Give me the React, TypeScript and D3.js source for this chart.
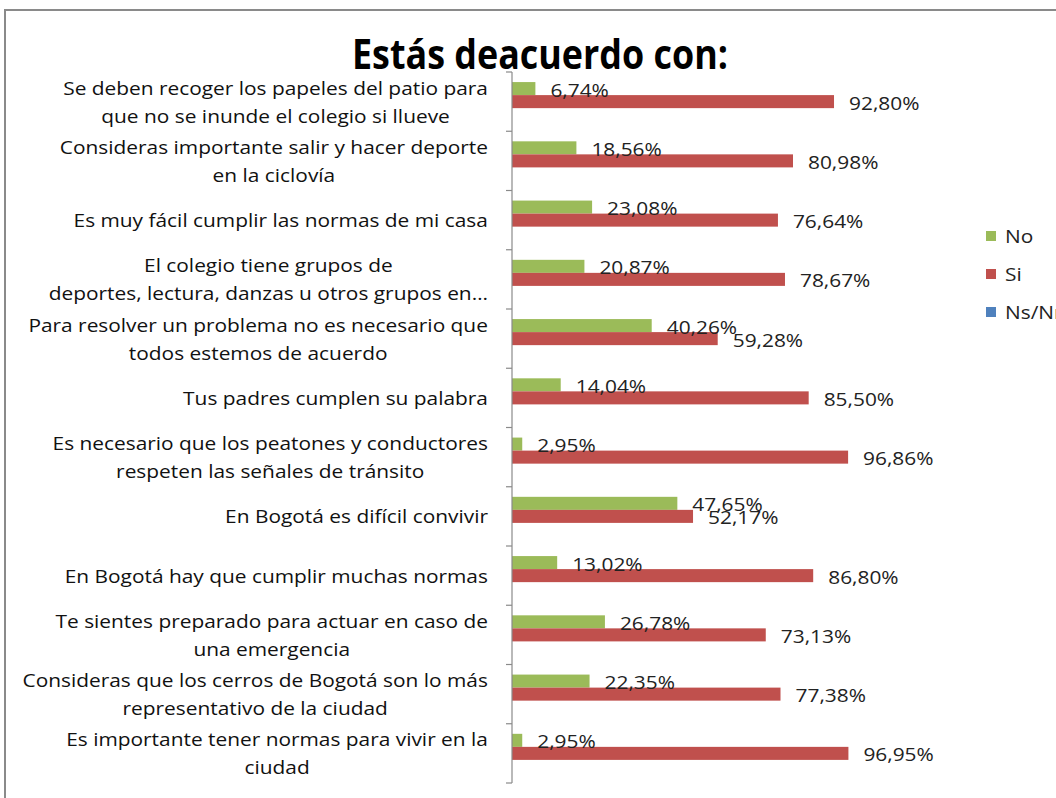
import React, { useEffect, useRef } from "react";
import { select, scaleLinear, scaleBand, max } from "d3";

// categories, top to bottom, already split into the lines shown in the chart
const categories = [
  ["Se deben  recoger los papeles del patio para", "que no se inunde el colegio si llueve"],
  ["Consideras importante salir y hacer deporte", "en la ciclovía"],
  ["Es muy fácil cumplir las normas de mi casa"],
  ["El colegio tiene grupos de", "deportes, lectura, danzas u otros grupos en…"],
  ["Para resolver un problema no es necesario que", "todos estemos de acuerdo"],
  ["Tus padres cumplen su palabra"],
  ["Es necesario que los peatones y conductores", "respeten las señales de tránsito"],
  ["En Bogotá es difícil convivir"],
  ["En Bogotá hay que cumplir muchas normas"],
  ["Te sientes preparado para actuar en caso de", "una emergencia"],
  ["Consideras que los cerros de Bogotá son lo más", "representativo de la ciudad"],
  ["Es importante tener normas para vivir en la", "ciudad"],
];
const seriesNames = ["No", "Si", "Ns/Nr"];
const noValues = [6.74, 18.56, 23.08, 20.87, 40.26, 14.04, 2.95, 47.65, 13.02, 26.78, 22.35, 2.95];
const siValues = [92.8, 80.98, 76.64, 78.67, 59.28, 85.5, 96.86, 52.17, 86.8, 73.13, 77.38, 96.95];
const nsnrValues = [0, 0, 0, 0, 0, 0, 0, 0, 0, 0, 0, 0];

const colors = ["#9BBB59", "#C0504D", "#4F81BD"];
const font = "'Open Sans', sans-serif";
const sx = 1.16; // the original's text is wider than Open Sans

const App = () => {
  const ref = useRef<SVGSVGElement>(null);

  useEffect(() => {
    const svg = select(ref.current);
    svg.selectAll("*").remove();
    const series = [noValues, siValues, nsnrValues];

    svg.append("rect").attr("width", 1056).attr("height", 798).attr("fill", "#fff");
    svg.append("rect")
      .attr("x", 5).attr("y", 10).attr("width", 1200).attr("height", 1000)
      .attr("fill", "none").attr("stroke", "#8a8a8a").attr("stroke-width", 2);

    svg.append("text")
      .attr("x", 540).attr("y", 69)
      .attr("text-anchor", "middle")
      .attr("font-family", font)
      .attr("font-weight", "bold")
      .attr("font-size", 42)
      .attr("textLength", 376)
      .attr("lengthAdjust", "spacingAndGlyphs")
      .text("Estás deacuerdo con:");

    const x = scaleLinear().domain([0, 100]).range([512, 859]);
    const y = scaleBand<number>()
      .domain(categories.map((_, i) => i))
      .range([72, 783])
      .paddingInner(0.34)
      .paddingOuter(0.17);
    const inner = scaleBand<number>().domain([0, 1, 2]).range([0, y.bandwidth()]);
    const step = y.step();

    // bars
    series.forEach((vals, s) => {
      svg.append("g").selectAll("rect")
        .data(vals)
        .join("rect")
        .attr("x", x(0))
        .attr("y", (_, i) => (y(i) as number) + (inner(s) as number))
        .attr("width", d => x(d) - x(0))
        .attr("height", inner.bandwidth())
        .attr("fill", colors[s]);
    });

    // value labels (No and Si only)
    series.slice(0, 2).forEach((vals, s) => {
      svg.append("g").selectAll("g")
        .data(vals)
        .join("g")
        .attr("transform", (d, i) =>
          `translate(${x(d) + 15},${(y(i) as number) + (inner(s) as number) + inner.bandwidth() / 2 + 1}) scale(${sx},1)`)
        .append("text")
        .attr("dominant-baseline", "central")
        .attr("font-family", font)
        .attr("font-size", 18)
        .attr("fill", "#222")
        .text(d => d.toFixed(2).replace(".", ",") + "%");
    });

    // axis line and ticks
    const axis = svg.append("g").attr("stroke", "#8a8a8a").attr("stroke-width", 1.2);
    axis.append("line").attr("x1", 512).attr("x2", 512).attr("y1", 72).attr("y2", 783);
    axis.selectAll("line.tick")
      .data(categories.map((_, i) => i).concat([categories.length]))
      .join("line")
      .attr("class", "tick")
      .attr("x1", 506).attr("x2", 512)
      .attr("y1", d => 72 + d * step)
      .attr("y2", d => 72 + d * step);

    // category labels: block right aligned, lines centered inside it
    const lineH = 28;
    categories.forEach((lines, i) => {
      const cy = (y(i) as number) + y.bandwidth() / 2;
      const groups = svg.append("g").selectAll("g")
        .data(lines)
        .join("g");
      const texts = groups.append("text")
        .attr("dominant-baseline", "central")
        .attr("text-anchor", "middle")
        .attr("font-family", font)
        .attr("font-size", 18)
        .attr("fill", "#111")
        .text(d => d);
      const widths = texts.nodes().map(n => (n as SVGTextElement).getComputedTextLength());
      const w = (max(widths) || 0) * sx;
      groups.attr("transform", (_, j) =>
        `translate(${488 - w / 2},${cy + (j - (lines.length - 1) / 2) * lineH}) scale(${sx},1)`);
    });

    // legend
    const legend = svg.append("g").selectAll("g")
      .data(seriesNames)
      .join("g")
      .attr("transform", (_, i) => `translate(986,${236 + i * 38})`);
    legend.append("rect")
      .attr("x", 0).attr("y", -5).attr("width", 10).attr("height", 10)
      .attr("fill", (_, i) => colors[i]);
    legend.append("text")
      .attr("transform", `translate(19,0) scale(${sx},1)`)
      .attr("dominant-baseline", "central")
      .attr("font-family", font)
      .attr("font-size", 18)
      .attr("fill", "#222")
      .text(d => d);
  }, []);

  return (
    <svg
      ref={ref}
      width={1056}
      height={798}
      style={{ position: "absolute", left: 0, top: 0 }}
    />
  );
};

export default App;
